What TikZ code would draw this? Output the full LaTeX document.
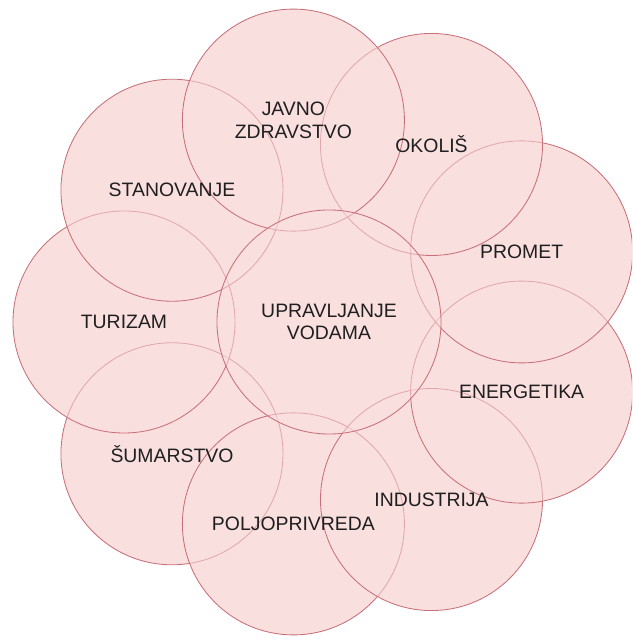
\documentclass[tikz,border=0pt]{standalone}
\usepackage{fontspec}
\setmainfont{Liberation Sans}
\usepackage{tikz}
\definecolor{krugfill}{RGB}{250,223,223}
\definecolor{krugrub}{RGB}{200,112,122}

\begin{document}
\begin{tikzpicture}[x=0.025cm,y=0.025cm,
    sektor/.style={circle, minimum size=5.55cm, inner sep=0pt, draw=krugrub, line width=0.6pt,
      fill=krugfill, fill opacity=0.5},
    natpis/.style={text=black!88, align=center, inner sep=0pt,
      font=\fontsize{13.8}{16}\selectfont}]
        % Okvir slike
        \useasboundingbox (-329,-322) rectangle (303,322);
        \clip (-329,-322) rectangle (303,322);
        \fill[white] (-329,-322) rectangle (303,322);

        % Podloga svih krugova
        \foreach \kut in {180,140,...,-140} \fill[krugfill] (\kut:205) circle (111);
        \fill[krugfill] (0,0) circle (112);

        % Sektori oko sredine
        \node[sektor] (sumarstvo) at (-140:205) {};
        \node[sektor] (poljo) at (-100:205) {};
        \node[sektor] (industrija) at (-60:205) {};
        \node[sektor] (energetika) at (-20:205) {};
        \node[sektor] (promet) at (20:205) {};
        \node[sektor] (okolis) at (60:205) {};
        \node[sektor] (turizam) at (180:205) {};
        \node[sektor] (stanovanje) at (140:205) {};
        \node[sektor] (zdravstvo) at (100:205) {};

        % Upravljanje vodama u sredini
        \node[sektor, minimum size=5.6cm] (vode) at (0,0) {};

        % Natpisi
        \node[natpis] at (sumarstvo) {ŠUMARSTVO};
        \node[natpis] at (poljo) {POLJOPRIVREDA};
        \node[natpis] at (industrija) {INDUSTRIJA};
        \node[natpis] at (energetika) {ENERGETIKA};
        \node[natpis] at (promet) {PROMET};
        \node[natpis] at (okolis) {OKOLIŠ};
        \node[natpis] at (turizam) {TURIZAM};
        \node[natpis] at (stanovanje) {STANOVANJE};
        \node[natpis] at (zdravstvo) {JAVNO\\ZDRAVSTVO};
        \node[natpis] at (vode) {UPRAVLJANJE\\VODAMA};
    \end{tikzpicture}
\end{document}
